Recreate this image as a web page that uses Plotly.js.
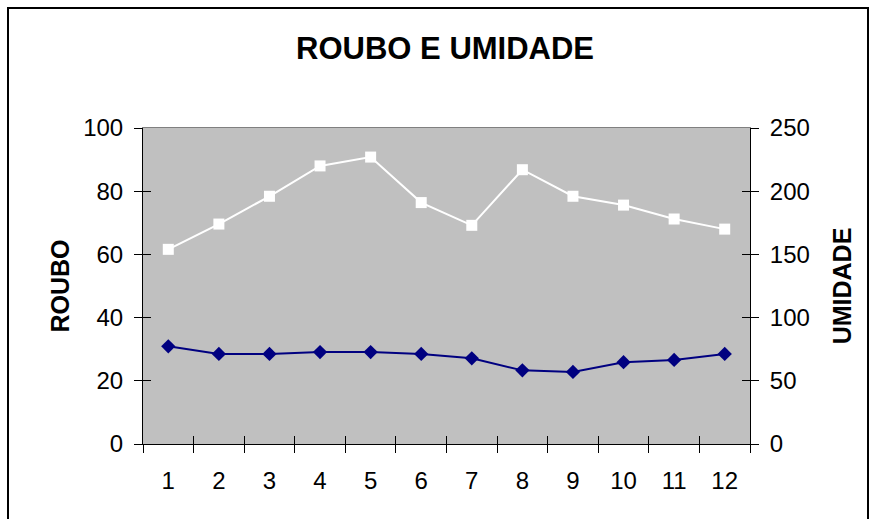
<!DOCTYPE html>
<html>
<head>
<meta charset="utf-8">
<script src="https://cdn.plot.ly/plotly-3.0.1.min.js"></script>
<style>
  html, body { margin: 0; padding: 0; background: #ffffff; }
  #wrap { position: relative; width: 871px; height: 519px; overflow: hidden; }
  #frame { position: absolute; left: 7px; top: 7px; width: 862px; height: 530px; border: 2px solid #000; box-sizing: border-box; pointer-events: none; z-index: 2; }
  #chart { position: absolute; left: 0; top: 0; width: 871px; height: 519px; }
</style>
</head>
<body>
<div id="wrap">
  <div id="chart"></div>
  <div id="frame"></div>
</div>
<script>
// ---- data ----
const categories = [1, 2, 3, 4, 5, 6, 7, 8, 9, 10, 11, 12];
const tickLabels = ['1', '2', '3', '4', '5', '6', '7', '8', '9', '10', '11', '12'];
const roubo = [30.9, 28.5, 28.5, 29.1, 29.1, 28.5, 27.1, 23.3, 22.8, 25.9, 26.6, 28.5];
const umidade = [154, 174, 196, 220, 227, 191, 173, 217, 196, 189, 178, 170];
const leftTicks = [0, 20, 40, 60, 80, 100];
const rightTicks = [0, 50, 100, 150, 200, 250];

const font = 'Liberation Sans, Arial, sans-serif';
const xRange = [categories[0] - 0.5, categories[categories.length - 1] + 0.5];
const boundaries = categories.map(c => c - 0.5).concat([categories[categories.length - 1] + 0.5]);

// helper (invisible) traces only register the overlay tick axes
function helper(xa, ya, yv) {
  return { x: categories, y: yv, xaxis: xa, yaxis: ya, type: 'scatter', mode: 'none',
           hoverinfo: 'skip', showlegend: false };
}

const traces = [
  {
    x: categories, y: umidade, name: 'UMIDADE', yaxis: 'y2', xaxis: 'x',
    type: 'scatter', mode: 'lines+markers',
    line: { color: '#ffffff', width: 2 },
    marker: { symbol: 'square', size: 11, color: '#ffffff' },
    hoverinfo: 'x+y'
  },
  {
    x: categories, y: roubo, name: 'ROUBO', yaxis: 'y', xaxis: 'x',
    type: 'scatter', mode: 'lines+markers',
    line: { color: '#000080', width: 2 },
    marker: { symbol: 'diamond', size: 11, color: '#000080' },
    hoverinfo: 'x+y'
  },
  helper('x2', 'y', roubo),
  helper('x3', 'y', roubo),
  helper('x', 'y3', roubo),
  helper('x', 'y4', umidade)
];

const tickBase = { ticklen: 8, tickwidth: 1, tickcolor: '#000' };

const layout = {
  width: 871, height: 519,
  paper_bgcolor: '#ffffff', plot_bgcolor: '#c0c0c0',
  margin: { l: 143, r: 121, t: 128, b: 75, pad: 0 },
  showlegend: false,
  title: {
    text: '<b>ROUBO E UMIDADE</b>',
    font: { family: font, size: 31, color: '#000' },
    xref: 'container', yref: 'container', x: 0.511, y: 0.907,
    xanchor: 'center', yanchor: 'middle'
  },
  xaxis: {
    type: 'linear', range: xRange, fixedrange: true,
    tickmode: 'array', tickvals: categories, ticktext: tickLabels,
    ticks: '', showgrid: false, zeroline: false,
    showline: true, linecolor: '#000', linewidth: 1,
    ticklabelstandoff: 15,
    tickfont: { family: font, size: 24, color: '#000' },
    minor: { tickmode: 'array', tickvals: boundaries, ticks: 'outside', ticklen: 8, tickwidth: 1, tickcolor: '#000', showgrid: false }
  },
  xaxis2: Object.assign({
    overlaying: 'x', anchor: 'y', side: 'bottom', type: 'linear', range: xRange, fixedrange: true,
    tickmode: 'array', tickvals: boundaries, ticks: 'inside', showticklabels: false,
    showgrid: false, zeroline: false, showline: false
  }, tickBase),
  xaxis3: {
    overlaying: 'x', anchor: 'y', side: 'top', type: 'linear', range: xRange, fixedrange: true,
    ticks: '', showticklabels: false, showgrid: false, zeroline: false,
    showline: true, linecolor: '#808080', linewidth: 1
  },
  yaxis: Object.assign({
    range: [0, 100], fixedrange: true, tickmode: 'array', tickvals: leftTicks,
    ticks: 'outside', showgrid: false, zeroline: false,
    showline: true, linecolor: '#000', linewidth: 1,
    ticklabelstandoff: 6,
    tickfont: { family: font, size: 24, color: '#000' },
    title: { text: '<b>ROUBO</b>', font: { family: font, size: 25, color: '#000' }, standoff: 6 }
  }, tickBase),
  yaxis3: Object.assign({
    overlaying: 'y', side: 'left', anchor: 'x', range: [0, 100], fixedrange: true,
    tickmode: 'array', tickvals: leftTicks, ticks: 'inside', showticklabels: false,
    showgrid: false, zeroline: false, showline: false
  }, tickBase),
  yaxis2: Object.assign({
    overlaying: 'y', side: 'right', anchor: 'x', range: [0, 250], fixedrange: true,
    tickmode: 'array', tickvals: rightTicks,
    ticks: 'outside', showgrid: false, zeroline: false,
    showline: true, linecolor: '#000', linewidth: 1,
    ticklabelstandoff: 6,
    tickfont: { family: font, size: 24, color: '#000' },
    title: { text: '<b>UMIDADE</b>', font: { family: font, size: 25, color: '#000' }, standoff: 24 }
  }, tickBase),
  yaxis4: Object.assign({
    overlaying: 'y', side: 'right', anchor: 'x', range: [0, 250], fixedrange: true,
    tickmode: 'array', tickvals: rightTicks, ticks: 'inside', showticklabels: false,
    showgrid: false, zeroline: false, showline: false
  }, tickBase)
};

Plotly.newPlot('chart', traces, layout, { displayModeBar: false, staticPlot: true });
</script>
</body>
</html>
